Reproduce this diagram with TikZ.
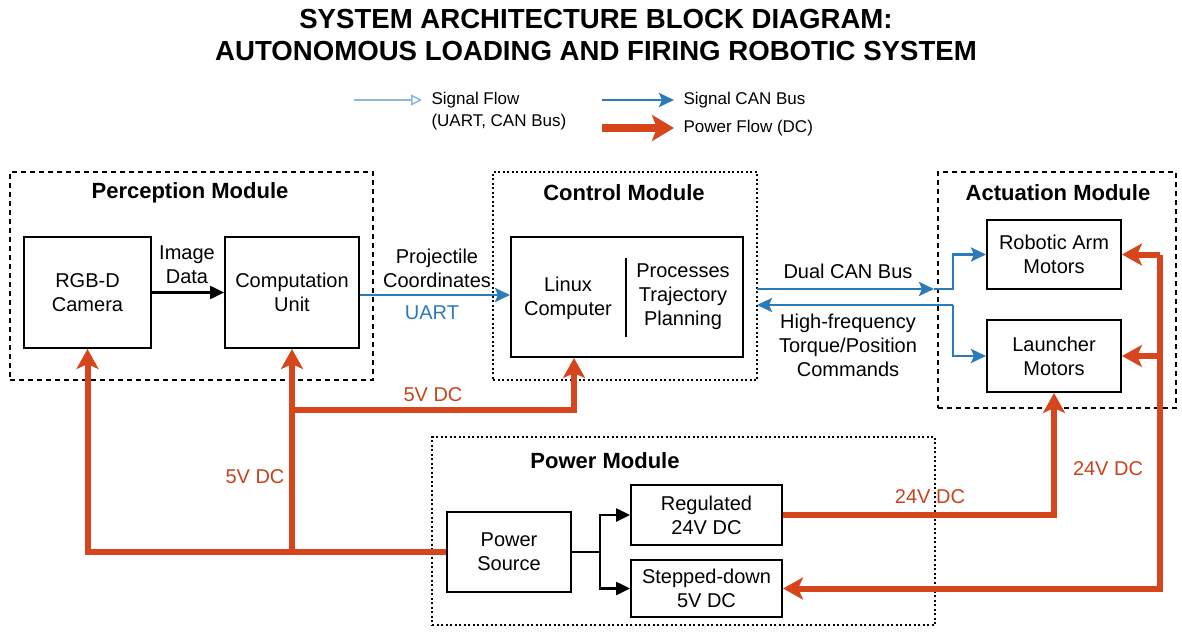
\documentclass[tikz,border=0pt]{standalone}
\usepackage{fontspec}
\setmainfont{Liberation Sans}
\usetikzlibrary{arrows.meta,positioning,calc}
\definecolor{pwrred}{HTML}{D6451B}
\definecolor{pwrtxt}{HTML}{C9421C}
\definecolor{sigblue}{HTML}{2B7BBA}
\definecolor{sigpale}{HTML}{8AB8DC}
\tikzset{
  blk/.style={draw, line width=2pt, align=center, font=\fontsize{20}{24}\selectfont},
  lbl/.style={align=center, font=\fontsize{20}{24}\selectfont},
  modtitle/.style={font=\fontsize{22}{26}\selectfont\bfseries},
  dashframe/.style={draw, line width=2pt, dash pattern=on 5pt off 4pt, outer sep=0pt},
  dotframe/.style={draw, line width=1.8pt, dash pattern=on 2pt off 2.5pt, outer sep=0pt},
  sig/.style={draw=sigblue, line width=2.5pt, -{Stealth[length=15pt,width=14pt,inset=3pt]}},
  pwr/.style={draw=pwrred, line width=6pt, -{Stealth[length=20pt,width=22pt,inset=5pt]}},
  dat/.style={draw, line width=2.5pt, -{Triangle[length=14pt,width=13pt]}},
}
\begin{document}
\begin{tikzpicture}[x=1pt,y=-1pt]
\useasboundingbox (0,0) rectangle (1182,639);
% heading
\node[align=center, font=\fontsize{27.6}{32}\selectfont\bfseries] (heading) at (596,35)
  {SYSTEM ARCHITECTURE BLOCK DIAGRAM:\\AUTONOMOUS LOADING AND FIRING ROBOTIC SYSTEM};
% legend
\coordinate (lgA) at (354,100);
\coordinate (lgB) at (422,100);
\draw[sigpale, line width=1.5pt, -{Triangle[open,length=11pt,width=11pt]}] (lgA) -- (lgB);
\node[anchor=west, align=left, font=\fontsize{17}{22}\selectfont] (lgsig) at (428,111) {Signal Flow\\(UART, CAN Bus)};
\coordinate (lgC) at (602,100);
\coordinate (lgD) at (674,100);
\draw[sig] (lgC) -- (lgD);
\node[anchor=west, font=\fontsize{17}{22}\selectfont] (lgcan) at (680,100) {Signal CAN Bus};
\coordinate (lgE) at (602,128);
\coordinate (lgF) at (674,128);
\draw[draw=pwrred, line width=8pt, -{Stealth[length=22pt,width=26pt,inset=5pt]}] (lgE) -- (lgF);
\node[anchor=west, font=\fontsize{17}{22}\selectfont] (lgpwr) at (680,128) {Power Flow (DC)};

% module frames
\node[dashframe, minimum width=363pt, minimum height=208pt] (percmod) at (191.5,276) {};
\node[dotframe, minimum width=264pt, minimum height=208pt] (ctrlmod) at (625,276) {};
\node[dashframe, minimum width=238pt, minimum height=236pt] (actmod) at (1057,290) {};
\node[dotframe, minimum width=503pt, minimum height=188pt] (pwrmod) at (683.5,531) {};
\node[modtitle] (perctitle) at (190,193) {Perception Module};
\node[modtitle] (ctrltitle) at (624,193) {Control Module};
\node[modtitle] (acttitle) at (1058,193) {Actuation Module};
\node[modtitle] (pwrtitle) at (605,461) {Power Module};

% blocks
\node[blk, minimum width=127pt, minimum height=111pt] (cam) at (87.5,292.5) {RGB-D\\Camera};
\node[blk, minimum width=134pt, minimum height=111pt] (comp) at (292,292.5) {Computation\\Unit};
\node[blk, minimum width=232pt, minimum height=120pt] (ctrl) at (627,297) {};
\node[lbl] (linux) at (568,298) {Linux\\Computer};
\node[lbl] (traj) at (683,297) {Processes\\Trajectory\\Planning};
\draw[line width=2pt] (626,258) -- (626,337);
\node[blk, minimum width=134pt, minimum height=69pt] (arm) at (1054,254.5) {Robotic Arm\\Motors};
\node[blk, minimum width=134pt, minimum height=72pt] (launch) at (1054,356) {Launcher\\Motors};
\node[blk, minimum width=124pt, minimum height=80pt] (src) at (509,552) {Power\\Source};
\node[blk, minimum width=151pt, minimum height=60pt] (reg) at (706.5,515) {Regulated\\24V DC};
\node[blk, minimum width=151pt, minimum height=57pt] (step) at (706.5,588.5) {Stepped-down\\5V DC};

% signal links
\draw[dat] (cam.east) -- (comp.west);
\node[lbl] (imgdata) at (187,265) {Image\\Data};
\coordinate (uartA) at (359,295);
\draw[sig] (uartA -| comp.east) -- (uartA -| ctrl.west);
\node[lbl] (coords) at (437,268) {Projectile\\Coordinates};
\node[lbl, text=sigblue] (uart) at (432,313) {UART};
\coordinate (canA) at (953,289);
\coordinate (canTip) at (934,289);
\coordinate (canB) at (953,305);
\draw[sig] (ctrlmod.east |- canA) -- (canTip);
\draw[sig] (canTip) -- (canA) |- (arm.west);
\draw[sig] (canB) -- (ctrlmod.east |- canB);
\draw[sig] (canB) |- (launch.west);
\node[lbl] (dualcan) at (848,271) {Dual CAN Bus};
\node[lbl] (cmds) at (848,345) {High-frequency\\Torque/Position\\Commands};

% power split
\coordinate (fork) at (600,552);
\draw[line width=2.5pt] (src.east) -- (fork);
\draw[dat] (fork) |- (reg.west);
\draw[dat] (fork) |- (step.west);

% power lines
\draw[pwr] (src.west) -| (cam.south);
\draw[pwr] (src.west -| comp.south) -- (comp.south);
\coordinate (tap5) at (292,410);
\draw[pwr] (tap5) -| ([xshift=-53pt]ctrl.south);
\draw[pwr] (reg.east) -| (launch.south);
\coordinate (rail) at (1160,254.5);
\draw[pwr] (rail) |- (step.east);
\draw[pwr] (rail) -- (arm.east);
\draw[pwr] (launch.east -| rail) -- (launch.east);
\node[lbl, text=pwrtxt] (v5a) at (433,395) {5V DC};
\node[lbl, text=pwrtxt] (v5b) at (255,477) {5V DC};
\node[lbl, text=pwrtxt] (v24a) at (930,497) {24V DC};
\node[lbl, text=pwrtxt] (v24b) at (1108,469) {24V DC};
\end{tikzpicture}
\end{document}
